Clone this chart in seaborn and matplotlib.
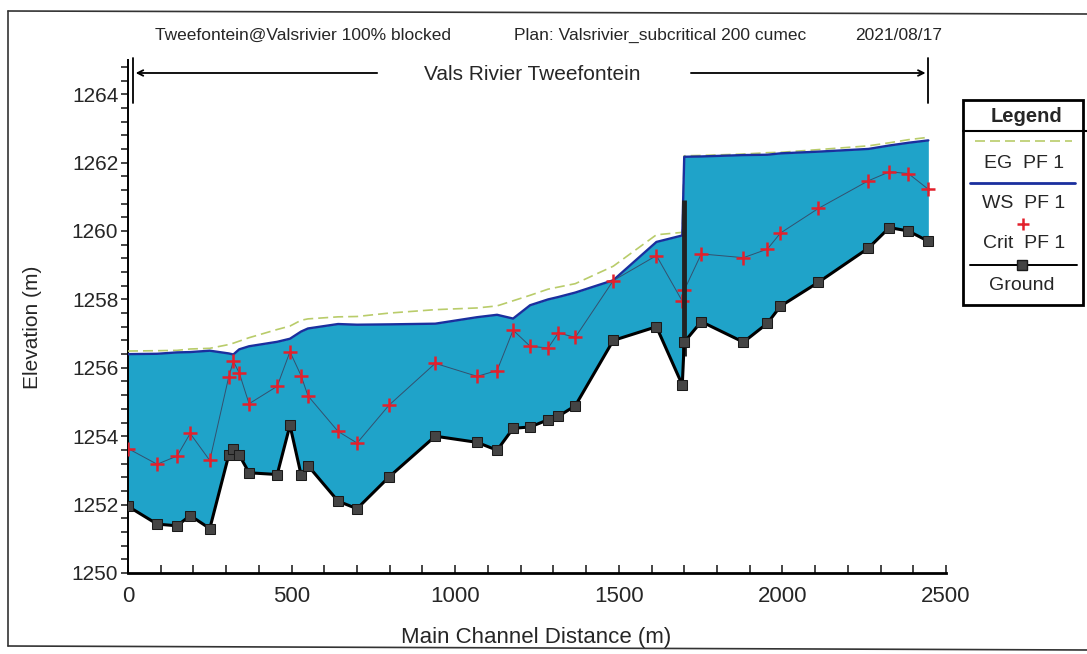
import numpy as np
import pandas as pd
import seaborn as sns
import matplotlib.pyplot as plt
from matplotlib.ticker import MultipleLocator
from matplotlib.lines import Line2D
from matplotlib.patches import Rectangle

# main channel stations (m) and profile elevations (m)
station = [0, 89, 150, 190, 250, 308, 322, 340, 370, 456, 495, 529, 550, 642, 700,
           798, 939, 1067, 1128, 1177, 1229, 1284, 1315, 1367, 1483, 1615, 1694, 1700,
           1752, 1881, 1954, 1994, 2110, 2263, 2327, 2385, 2446]
ground = [1251.95, 1251.43, 1251.38, 1251.68, 1251.30, 1253.45, 1253.62, 1253.45, 1252.93,
          1252.88, 1254.32, 1252.87, 1253.14, 1252.10, 1251.88, 1252.81, 1254.00, 1253.82,
          1253.59, 1254.23, 1254.27, 1254.48, 1254.58, 1254.89, 1256.80, 1257.20, 1255.50,
          1256.75, 1257.35, 1256.75, 1257.30, 1257.80, 1258.50, 1259.50, 1260.10, 1260.00,
          1259.70]
crit = [1253.64, 1253.18, 1253.42, 1254.08, 1253.29, 1255.74, 1256.19, 1255.85, 1254.95,
        1255.46, 1256.47, 1255.77, 1255.18, 1254.14, 1253.80, 1254.91, 1256.13, 1255.75,
        1255.92, 1257.10, 1256.63, 1256.58, 1257.02, 1256.89, 1258.55, 1259.28, 1257.95,
        1258.27, 1259.33, 1259.22, 1259.47, 1259.94, 1260.66, 1261.47, 1261.73, 1261.68,
        1261.22]
ws = [1256.40, 1256.41, 1256.45, 1256.46, 1256.50, 1256.42, 1256.39, 1256.54, 1256.63,
      1256.76, 1256.85, 1257.06, 1257.15, 1257.28, 1257.26, 1257.27, 1257.29, 1257.48,
      1257.55, 1257.44, 1257.83, 1258.00, 1258.07, 1258.20, 1258.56, 1259.68, 1259.87,
      1262.17, 1262.18, 1262.22, 1262.23, 1262.27, 1262.32, 1262.40, 1262.50, 1262.58,
      1262.65]
eg = [1256.49, 1256.50, 1256.51, 1256.55, 1256.57, 1256.68, 1256.72, 1256.78, 1256.88,
      1257.12, 1257.22, 1257.39, 1257.43, 1257.49, 1257.50, 1257.60, 1257.70, 1257.75,
      1257.81, 1257.96, 1258.12, 1258.30, 1258.36, 1258.46, 1258.97, 1259.89, 1259.96,
      1262.20, 1262.21, 1262.25, 1262.29, 1262.30, 1262.38, 1262.49, 1262.58, 1262.67,
      1262.74]

# blocked structure (inline weir)
weir_station = 1698
weir_top = 1260.9
reach_start, reach_end = 15, 2446

df = pd.DataFrame({"station": station, "ground": ground, "crit": crit, "ws": ws, "eg": eg})

sns.set_style("white")
plt.rcParams['font.family'] = ['Liberation Sans', 'DejaVu Sans']
narrow = ['Liberation Sans Narrow', 'Liberation Sans', 'DejaVu Sans']

W, H = 1087, 654
fig = plt.figure(figsize=(W / 100, H / 100), dpi=100)
ax = fig.add_axes([128 / W, 1 - 573 / H, 818 / W, 513 / H])

water = '#1fa3c9'
ax.fill_between(df.station, df.ground, df.ws, color=water, lw=0, zorder=1)

sns.lineplot(data=df, x="station", y="eg", ax=ax, color='#b9cc6a', lw=1.2,
             dashes=False, linestyle=(0, (6, 3)), sort=False, estimator=None, zorder=3)
sns.lineplot(data=df, x="station", y="ws", ax=ax, color='#1a2f9e', lw=1.7,
             sort=False, estimator=None, zorder=4)
ax.plot(df.station, df.crit, color='#34506e', lw=0.7, zorder=5)
sns.scatterplot(data=df, x="station", y="crit", ax=ax, marker='+', s=110,
                color='#e3202b', linewidth=1.8, zorder=6)
g_weir = np.interp(weir_station, station, ground)
ax.vlines(weir_station, g_weir, weir_top, color='#222222', lw=3.5, zorder=7)
sns.lineplot(data=df, x="station", y="ground", ax=ax, color='black', lw=2.2,
             marker='s', markersize=7, markerfacecolor='#444444',
             markeredgecolor='#1a1a1a', sort=False, estimator=None, zorder=8)

ax.set_xlim(0, 2500)
ax.set_ylim(1250, 1265)
ax.xaxis.set_major_locator(MultipleLocator(500))
ax.xaxis.set_minor_locator(MultipleLocator(100))
ax.yaxis.set_major_locator(MultipleLocator(2))
ax.yaxis.set_minor_locator(MultipleLocator(0.4))
ax.set_yticks(np.arange(1250, 1265, 2))
for s in ['top', 'right']:
    ax.spines[s].set_visible(False)
ax.spines['left'].set_linewidth(1.4)
ax.spines['bottom'].set_linewidth(2)
ax.spines['left'].set_color('black')
ax.spines['bottom'].set_color('black')
ax.tick_params(axis='x', which='both', direction='in', length=6, width=1.2,
               bottom=True, pad=9)
ax.tick_params(axis='y', which='both', direction='out', length=5, width=1.2,
               left=True, pad=2, labelsize=15)
for lab in ax.get_xticklabels():
    lab.set_family(narrow)
    lab.set_fontsize(16)

ax.set_xlabel("Main Channel Distance (m)", fontsize=16, family=narrow)
ax.set_ylabel("Elevation (m)", fontsize=15)
ax.xaxis.set_label_coords(0.499, -0.105)
ax.yaxis.set_label_coords(-0.105, 0.478)

# reach bar with name
ax.plot([reach_start, reach_start], [1263.75, 1265.05], color='black', lw=1.3, clip_on=False)
ax.plot([reach_end, reach_end], [1263.75, 1265.05], color='black', lw=1.3, clip_on=False)
ax.annotate('', xy=(reach_start, 1264.62), xytext=(770, 1264.62),
            arrowprops=dict(arrowstyle='->', lw=1.3, color='black'), annotation_clip=False)
ax.annotate('', xy=(reach_end, 1264.62), xytext=(1712, 1264.62),
            arrowprops=dict(arrowstyle='->', lw=1.3, color='black'), annotation_clip=False)
ax.text(1235, 1264.58, "Vals Rivier Tweefontein", fontsize=15, ha='center', va='center')

# header texts
fig.text(155 / W, 1 - 40 / H, "Tweefontein@Valsrivier 100% blocked", fontsize=12.5)
fig.text(514 / W, 1 - 40 / H, "Plan: Valsrivier_subcritical 200 cumec", fontsize=12.5)
fig.text(855 / W, 1 - 40 / H, "2021/08/17", fontsize=12.5)

# legend panel drawn in pixel space
lg = fig.add_axes([0, 0, 1, 1], facecolor='none')
lg.set_xlim(0, W)
lg.set_ylim(H, 0)
lg.axis('off')
lg.add_patch(Rectangle((963, 100), 120, 205, fill=False, lw=2, ec='black'))
lg.plot([963, 1087], [131, 131], color='black', lw=1.5)
lg.text(1026, 116, "Legend", fontsize=14.5, fontweight='bold', ha='center', va='center')
lg.plot([975, 1072], [141, 141], color='#b9cc6a', lw=1.2, linestyle=(0, (6, 3)))
lg.text(1024, 163, "EG  PF 1", fontsize=14, ha='center', va='center')
lg.plot([970, 1075], [183, 183], color='#1a2f9e', lw=2)
lg.text(1024, 204, "WS  PF 1", fontsize=14, ha='center', va='center')
lg.plot([1023], [224], marker='+', ms=8, mew=1.8, color='#e3202b')
lg.text(1024, 243, "Crit  PF 1", fontsize=14, ha='center', va='center')
lg.plot([970, 1077], [265, 265], color='black', lw=1.4)
lg.plot([1022], [265], marker='s', ms=7, mfc='#444444', mec='#1a1a1a')
lg.text(1022, 286, "Ground", fontsize=14, ha='center', va='center')

# scanned page border
for xs, ys in [([8, 1087], [11, 14]), ([8, 8], [11, 646]), ([8, 1087], [646, 650])]:
    lg.add_line(Line2D(xs, ys, color='#333333', lw=1.2))

fig.savefig("out.png", dpi=100)
